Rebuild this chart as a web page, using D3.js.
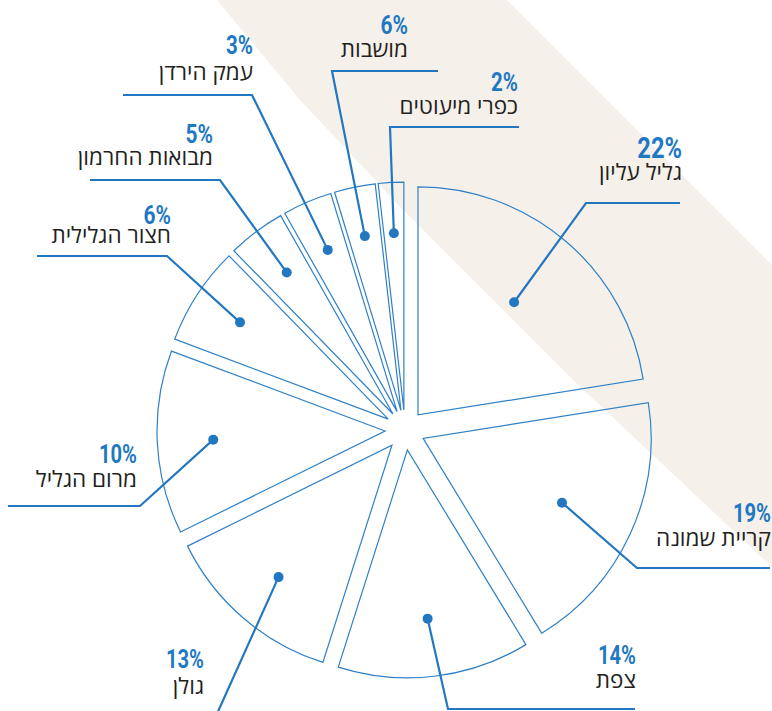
<!DOCTYPE html>
<html>
<head>
<meta charset="utf-8">
<script src="https://cdn.jsdelivr.net/npm/d3@7"></script>
<style>
  html, body { margin: 0; padding: 0; background: #fff; }
  svg { display: block; }
</style>
</head>
<body>
<svg id="chart" width="772" height="711"></svg>
<script>
// ---- data ----
const names = ["גליל עליון", "קריית שמונה", "צפת", "גולן", "מרום הגליל", "חצור הגלילית", "מבואות החרמון", "עמק הירדן", "מושבות", "כפרי מיעוטים"];
const pctLabels = [22, 19, 14, 13, 10, 6, 5, 3, 6, 2];
// slice sizes as actually drawn in the reference graphic (percent of the circle)
const drawnShares = [22.5, 18.8, 13.6, 12.8, 13.0, 7.0, 4.1, 3.5, 2.9, 1.8];

// ---- layout (annotation placement) ----
const layout = [
  { dotR: 168, elbow: [586, 203], end: 680, tx: 682, py: 158, ny: 180, fs: 30 },
  { dotR: 173, elbow: [637, 568], end: 770, tx: 771, py: 522, ny: 546, fs: 25.5 },
  { dotR: 190, elbow: [448, 709], end: 635, tx: 636, py: 664, ny: 688, fs: 25.5 },
  { dotR: 194, elbow: [216, 716], end: 216, tx: 204, py: 668, ny: 694, fs: 25.5 },
  { dotR: 192, elbow: [140, 506], end: 8,   tx: 137, py: 463, ny: 487, fs: 25.5 },
  { dotR: 197, elbow: [167, 256], end: 37,  tx: 171, py: 224, ny: 243, fs: 26.5 },
  { dotR: 197, elbow: [220, 180], end: 90,  tx: 213, py: 143, ny: 165, fs: 26.5 },
  { dotR: 196, elbow: [252, 95],  end: 123, tx: 253, py: 54,  ny: 80,  fs: 26 },
  { dotR: 198, elbow: [332, 71],  end: 438, tx: 408, py: 34,  ny: 57,  fs: 26.5 },
  { dotR: 197, elbow: [390, 127], end: 519, tx: 518, py: 91,  ny: 114, fs: 26 }
];

const W = 772, H = 711;
const cx = 405, cy = 430, R = 228, explode = 20;
const blue = "#2277c0";
const pctBlue = "#1f79c2";

const svg = d3.select("#chart");

// background diagonal band
const bandLeft = [[217, 0], [300, 100], [403, 210], [573, 380], [772, 567]];
const bandPts = bandLeft.concat([[772, 265], [507, 0]]);
svg.append("path")
  .attr("d", d3.line().curve(d3.curveLinearClosed)(bandPts))
  .attr("fill", "#f6f0eb");

const pie = d3.pie().sort(null).value(d => d)(drawnShares);
const arc = d3.arc().innerRadius(0).outerRadius(R);

const g = svg.append("g").attr("transform", `translate(${cx},${cy})`);

g.selectAll("path.slice")
  .data(pie)
  .join("path")
  .attr("class", "slice")
  .attr("transform", d => {
    const a = (d.startAngle + d.endAngle) / 2;
    return `translate(${explode * Math.sin(a)},${-explode * Math.cos(a)})`;
  })
  .attr("d", arc)
  .attr("fill", "none")
  .attr("stroke", "#2f80c6")
  .attr("stroke-width", 1.2)
  .attr("stroke-linejoin", "miter");

// leaders, dots and labels
pie.forEach((d, i) => {
  const L = layout[i];
  const a = (d.startAngle + d.endAngle) / 2;
  const dx = cx + L.dotR * Math.sin(a);
  const dy = cy - L.dotR * Math.cos(a);
  const pts = [[dx, dy], L.elbow, [L.end, L.elbow[1]]];
  svg.append("path")
    .attr("d", d3.line()(pts))
    .attr("fill", "none")
    .attr("stroke", blue)
    .attr("stroke-width", 2.2);
  svg.append("circle")
    .attr("cx", dx).attr("cy", dy).attr("r", 5)
    .attr("fill", blue);

  svg.append("text")
    .attr("transform", `translate(${L.tx},${L.py}) scale(0.79,1)`)
    .attr("text-anchor", "end")
    .attr("font-family", "Roboto, 'Liberation Sans', sans-serif")
    .attr("font-weight", 700)
    .attr("font-size", L.fs)
    .attr("fill", pctBlue)
    .text(pctLabels[i] + "%");

  svg.append("text")
    .attr("x", L.tx)
    .attr("y", L.ny)
    .attr("text-anchor", "end")
    .attr("font-family", "'Open Sans', 'Liberation Sans', 'DejaVu Sans', sans-serif")
    .attr("font-size", 22.5)
    .attr("fill", "#231f20")
    .text(names[i]);
});
</script>
</body>
</html>
